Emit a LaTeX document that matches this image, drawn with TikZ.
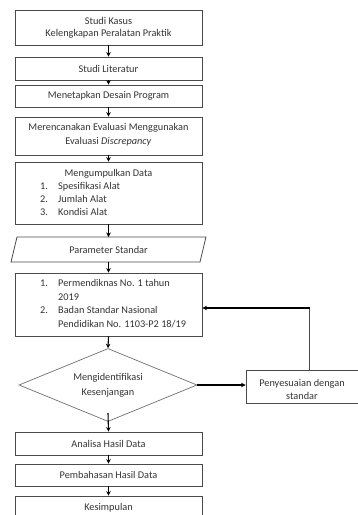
\documentclass[tikz,border=0pt]{standalone}
\usepackage{fontspec}
\setmainfont{Carlito}
\usetikzlibrary{arrows.meta,shapes.geometric}
\definecolor{bd}{HTML}{4A4A4A}
\definecolor{bdl}{HTML}{6E6E6E}
\definecolor{txt}{HTML}{333333}
\begin{document}
\begin{tikzpicture}[x=1pt,y=-1pt,
  font=\fontsize{10.3}{12}\selectfont,
  box/.style={draw=bd, line width=0.8pt, rectangle, inner sep=0pt, minimum width=187pt, text=txt, align=center},
  lbl/.style={text=txt, inner sep=0pt, anchor=base west},
  arr/.style={-{Stealth[length=4.5pt,width=4.5pt]}, line width=1.1pt, draw=black},
  thinl/.style={line width=0.8pt, draw=bd}]
\useasboundingbox (0,0) rectangle (358,515);
\clip (0,0) rectangle (358,515);
% main boxes
\node[box, minimum height=35pt] (b1) at (108.5,27.5) {Studi Kasus\\Kelengkapan Peralatan Praktik};
\node[box, minimum height=23pt] (b2) at (108.5,68.5) {Studi Literatur};
\node[box, minimum height=22pt] (b3) at (108.5,96) {Menetapkan Desain Program};
\node[box, minimum height=38pt] (b4) at (108.5,136) {};
\node[text=txt, align=center, inner sep=0pt] (t4) at (108.5,134.5) {Merencanakan Evaluasi Menggunakan\\[2pt]Evaluasi \textit{Discrepancy}};
\node[box, minimum height=62pt] (b5) at (108.5,193) {};
\node[text=txt, inner sep=0pt, anchor=base] (t5) at (108.5,176.5) {Mengumpulkan Data};
\node[lbl] (n51) at (40,189.5) {1.};
\node[lbl] (l51) at (58,189.5) {Spesifikasi Alat};
\node[lbl] (n52) at (40,202.5) {2.};
\node[lbl] (l52) at (58,202.5) {Jumlah Alat};
\node[lbl] (n53) at (40,215.5) {3.};
\node[lbl] (l53) at (58,215.5) {Kondisi Alat};
% parallelogram
\draw[thinl] (17,237) -- (206,237) -- (200,262) -- (11,262) -- cycle;
\coordinate (ptop) at (108.5,237);
\coordinate (pbot) at (108.5,262);
\node[text=txt, inner sep=0pt] (p) at (108.5,249.5) {Parameter Standar};
% box 6
\node[box, minimum height=63pt] (b6) at (108.5,304.5) {};
\node[lbl] (n61) at (40,286.5) {1.};
\node[lbl] (l61) at (58,286.5) {Permendiknas No. 1 tahun};
\node[lbl] (l61b) at (58,300) {2019};
\node[lbl] (n62) at (40,313.5) {2.};
\node[lbl] (l62) at (58,313.5) {Badan Standar Nasional};
\node[lbl] (l62b) at (58,327) {Pendidikan No. 1103-P2 18/19};
% diamond
\node[diamond, draw=bdl, line width=0.7pt, minimum width=178pt, minimum height=73pt, inner sep=0pt, text=txt, align=center] (d) at (108,385) {};
\node[text=txt, align=center, inner sep=0pt] (td) at (108,385) {Mengidentifikasi\\[3pt]Kesenjangan};
% right box
\node[draw=bd, line width=0.8pt, rectangle, minimum width=112pt, minimum height=33pt, inner sep=0pt] (r) at (302,386.5) {};
\node[text=txt, align=center, inner sep=0pt] (tr) at (302,389.5) {Penyesuaian dengan\\[1pt]standar};
% lower boxes
\node[box, minimum height=23pt] (b7) at (108.5,443.5) {Analisa Hasil Data};
\node[box, minimum height=22pt] (b8) at (108.5,475) {Pembahasan Hasil Data};
\node[box, minimum height=24pt] (b9) at (108.5,508) {Kesimpulan};
% arrows
\draw[arr] (b1) -- (b2);
\draw[arr] (b2) -- (b3);
\draw[arr] (b3) -- (b4);
\draw[arr] (b4) -- (b5);
\draw[arr] (b5.south) -- (ptop);
\draw[arr] (pbot) -- (b6.north);
\draw[arr] (b6.south) -- (d.north);
\draw[arr] (d.north |- 0,413) -- (b7.north);
\draw[arr] (b7) -- (b8);
\draw[arr] (b8) -- (b9);
\draw[arr] (d.east) -- (d.east -| r.west);
\coordinate (fb) at (309,308);
\draw[thinl] (fb |- r.north) -- (fb);
\draw[arr] ([xshift=0.5pt]fb) -- (fb -| b6.east);
\end{tikzpicture}
\end{document}
